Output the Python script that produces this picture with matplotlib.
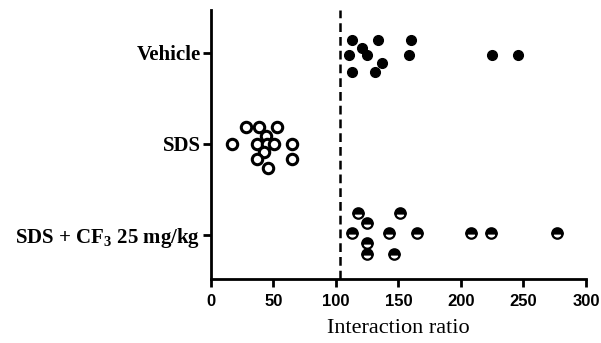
import matplotlib
matplotlib.use("Agg")
import matplotlib.pyplot as plt

plt.rcParams['mathtext.fontset'] = 'custom'
plt.rcParams['mathtext.rm'] = 'Liberation Serif:bold'
plt.rcParams['mathtext.default'] = 'rm'

# groups, bottom to top
groups = ['SDS + CF$_3$ 25 mg/kg', 'SDS', 'Vehicle']

# interaction ratio values and vertical scatter offsets
vehicle_x = [112.5, 134, 160, 120.5, 110.7, 125, 158.7, 225, 246, 136.5, 113, 131]
vehicle_dy = [0.14, 0.14, 0.14, 0.055, -0.02, -0.02, -0.02, -0.02, -0.02, -0.11, -0.21, -0.21]

sds_x = [17, 27.8, 38.7, 53, 43.7, 36.5, 44.5, 50.6, 64.5, 42.7, 36.5, 64.5, 45.3]
sds_dy = [0.0, 0.19, 0.19, 0.19, 0.09, 0.0, 0.0, 0.0, 0.0, -0.09, -0.17, -0.17, -0.26]

cf3_x = [118, 151, 124.5, 112.5, 142.7, 165, 208, 224, 277, 124.5, 124.5, 146.7]
cf3_dy = [0.24, 0.24, 0.13, 0.02, 0.02, 0.02, 0.02, 0.02, 0.02, -0.09, -0.21, -0.21]

ref_line = 103

fig = plt.figure(figsize=(6.01, 3.43), dpi=100)
ax = fig.add_axes([0.351, 0.1866, 0.624, 0.7844])

ax.plot(cf3_x, [0 + d for d in cf3_dy], 'o', ms=7.5, fillstyle='top',
        markerfacecolor='black', markerfacecoloralt='white',
        markeredgecolor='black', mew=1.6, ls='none')
ax.plot(sds_x, [1 + d for d in sds_dy], 'o', ms=7.5, markerfacecolor='white',
        markeredgecolor='black', mew=2.2, ls='none')
ax.plot(vehicle_x, [2 + d for d in vehicle_dy], 'o', ms=7, color='black', ls='none')

ax.axvline(ref_line, color='black', lw=1.8, ls=(0, (3.5, 2)))

ax.set_xlim(0, 300)
ax.set_ylim(-0.484, 2.47)
ax.set_xticks([0, 50, 100, 150, 200, 250, 300])
ax.set_yticks([0, 1, 2])
ax.set_yticklabels(groups, fontfamily='Liberation Serif', fontweight='bold', fontsize=15)
for lbl in ax.get_xticklabels():
    lbl.set_fontfamily('Liberation Sans')
    lbl.set_fontweight('bold')
    lbl.set_fontsize(12)
ax.set_xlabel('Interaction ratio', fontfamily='Liberation Serif', fontsize=16, labelpad=7.5)

for side in ['top', 'right']:
    ax.spines[side].set_visible(False)
for side in ['left', 'bottom']:
    ax.spines[side].set_linewidth(2)
ax.tick_params(axis='both', width=2, length=5.5, direction='out')
ax.tick_params(axis='x', pad=5)
ax.tick_params(axis='y', pad=2)

fig.savefig('out.png', dpi=100)
